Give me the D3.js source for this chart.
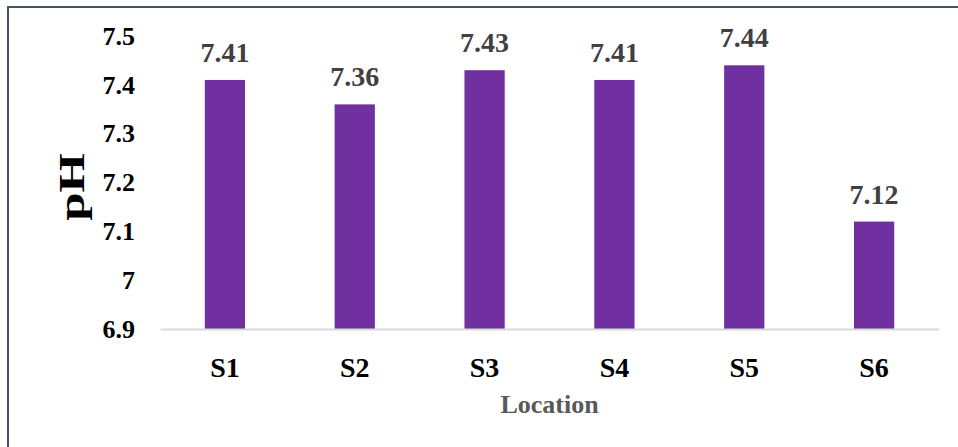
<!DOCTYPE html>
<html>
<head>
<meta charset="utf-8">
<script src="https://cdn.jsdelivr.net/npm/d3@7"></script>
<style>
  body { margin: 0; background: #fff; }
  text { font-family: "Liberation Serif", "Times New Roman", serif; font-weight: bold; }
</style>
</head>
<body>
<svg width="958" height="447"></svg>
<script>
var locations = ["S1", "S2", "S3", "S4", "S5", "S6"];
var phValues = [7.41, 7.36, 7.43, 7.41, 7.44, 7.12];
var yTicks = [6.9, 7, 7.1, 7.2, 7.3, 7.4, 7.5];

var margin = {top: 36, right: 19, bottom: 118, left: 160},
    width = 958 - margin.left - margin.right,
    height = 447 - margin.top - margin.bottom;

var barColor = "#7030a0";

var svg = d3.select("svg");

// outer frame
svg.append("rect")
    .attr("x", 8).attr("y", 7)
    .attr("width", 960).attr("height", 460)
    .attr("fill", "none")
    .attr("stroke", "#44546a")
    .attr("stroke-width", 2);

var g = svg.append("g").attr("transform", "translate(" + margin.left + "," + margin.top + ")");

var xScale = d3.scaleBand().domain(locations).range([0, width]).paddingInner(0.69).paddingOuter(0.345);
var yScale = d3.scaleLinear().domain([6.9, 7.5]).range([height, 0]);

// bars
g.selectAll(".bar")
    .data(phValues)
    .enter().append("rect")
      .attr("class", "bar")
      .attr("x", function(d, i) { return xScale(locations[i]); })
      .attr("y", function(d) { return yScale(d); })
      .attr("width", xScale.bandwidth())
      .attr("height", function(d) { return height - yScale(d); })
      .attr("fill", barColor);

// value labels
g.selectAll(".val")
    .data(phValues)
    .enter().append("text")
      .attr("class", "val")
      .attr("x", function(d, i) { return xScale(locations[i]) + xScale.bandwidth() / 2; })
      .attr("y", function(d) { return yScale(d) - 18; })
      .attr("text-anchor", "middle")
      .attr("fill", "#404040")
      .style("font-size", "28px")
      .text(function(d) { return d.toFixed(2); });

// x axis
var xAxis = g.append("g")
    .attr("transform", "translate(0," + height + ")")
    .call(d3.axisBottom(xScale).tickSize(0).tickPadding(28));
xAxis.select(".domain").attr("stroke", "#d9d9d9").attr("stroke-width", 2);
xAxis.selectAll("text")
    .attr("fill", "#000")
    .style("font-size", "28px")
    .style("font-family", "'Liberation Serif', serif")
    .style("font-weight", "bold");

// y axis
var yAxis = g.append("g")
    .call(d3.axisLeft(yScale).tickValues(yTicks).tickSize(0).tickPadding(25)
      .tickFormat(function(d) { return String(+d.toFixed(1)); }));
yAxis.select(".domain").remove();
yAxis.selectAll("text")
    .attr("fill", "#000")
    .style("font-size", "26px")
    .style("font-family", "'Liberation Serif', serif")
    .style("font-weight", "bold");

// axis titles
svg.append("text")
    .attr("transform", "translate(84,187) rotate(-90) scale(1.45,1)")
    .attr("text-anchor", "middle")
    .attr("fill", "#000")
    .style("font-size", "35px")
    .text("pH");

svg.append("text")
    .attr("x", margin.left + width / 2)
    .attr("y", 413)
    .attr("text-anchor", "middle")
    .attr("fill", "#595959")
    .style("font-size", "26px")
    .text("Location");
</script>
</body>
</html>
